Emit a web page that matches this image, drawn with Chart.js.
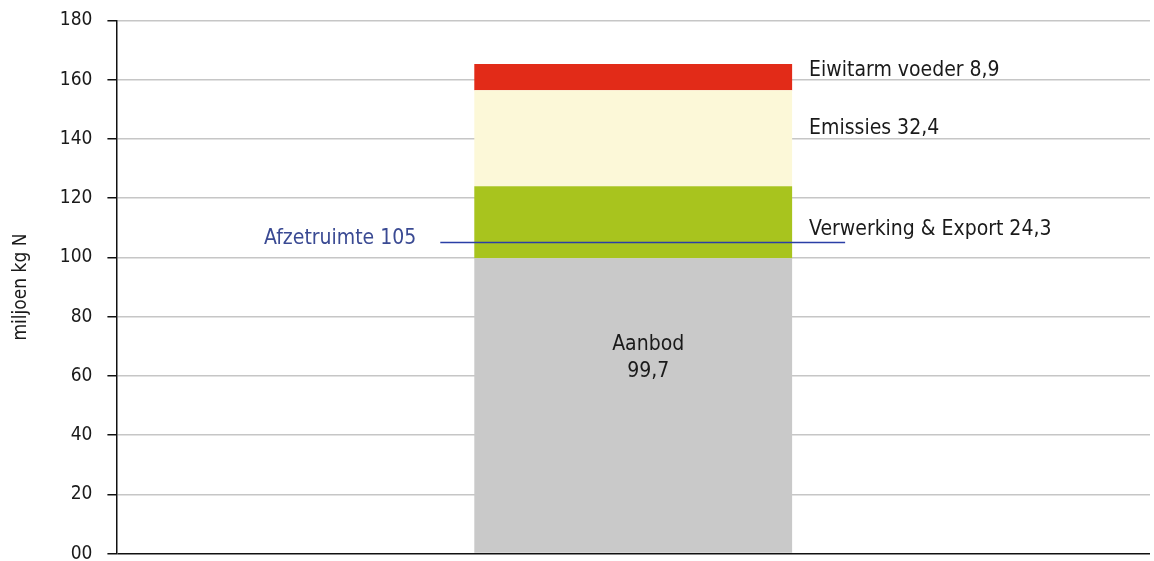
<!DOCTYPE html>
<html>
<head>
<meta charset="utf-8">
<script src="https://cdn.jsdelivr.net/npm/chart.js@4"></script>
<style>
  html, body { margin: 0; padding: 0; background: #fff; overflow: hidden; }
  #wrap { width: 1154px; height: 586px; margin-top: -6px; }
</style>
</head>
<body>
<div id="wrap"><canvas id="myChart"></canvas></div>
<script>
// Stikstof: aanbod versus afzetruimte

const categories = [''];
const seriesNames = ['Aanbod', 'Verwerking & Export', 'Emissies', 'Eiwitarm voeder'];
const seriesValues = [99.7, 24.3, 32.4, 8.9];
const seriesLabels = ['Aanbod\n99,7', 'Verwerking & Export 24,3', 'Emissies 32,4', 'Eiwitarm voeder 8,9'];
const seriesColors = ['#c9c9c9', '#a8c41e', '#fcf8d8', '#e22b18'];
const labelAt = [66.2, 109.4, 143.5, 163.1];   // label heights in axis units
const afzetruimte = 105;
const yTicks = [0, 20, 40, 60, 80, 100, 120, 140, 160, 180];

const font = '"DejaVu Sans Condensed", "Liberation Sans Narrow", Roboto, sans-serif';

let datasets = [];
for (let i = 0; i < seriesNames.length; i++) {
    datasets.push({
        label: seriesNames[i],
        data: [seriesValues[i]],
        backgroundColor: seriesColors[i],
        barPercentage: 0.3075,
        categoryPercentage: 1
    });
}

const annotate = {
    id: 'annotate',
    afterDatasetsDraw(chart) {
        const ctx = chart.ctx;
        const y = chart.scales.y;
        const bar = chart.getDatasetMeta(0).data[0];
        const left = bar.x - bar.width / 2;
        const right = bar.x + bar.width / 2;
        ctx.save();
        ctx.font = '21px ' + font;
        ctx.fillStyle = '#1a1a1a';
        ctx.textBaseline = 'middle';
        // labels of the upper segments, right of the bar
        ctx.textAlign = 'left';
        for (let i = 1; i < seriesLabels.length; i++) {
            ctx.fillText(seriesLabels[i], right + 17, y.getPixelForValue(labelAt[i]));
        }
        // label inside the bottom segment
        ctx.textAlign = 'center';
        const lines = seriesLabels[0].split('\n');
        const yc = y.getPixelForValue(labelAt[0]);
        ctx.fillText(lines[0], bar.x + 15, yc - 13);
        ctx.fillText(lines[1], bar.x + 15, yc + 14);
        // afzetruimte line
        const ly = y.getPixelForValue(afzetruimte);
        ctx.strokeStyle = '#2a3fa6';
        ctx.lineWidth = 1.5;
        ctx.beginPath();
        ctx.moveTo(left - 34, ly);
        ctx.lineTo(right + 53, ly);
        ctx.stroke();
        ctx.fillStyle = '#3a4a93';
        ctx.textAlign = 'right';
        ctx.fillText('Afzetruimte ' + afzetruimte, left - 58, ly - 4);
        ctx.restore();
    }
};

let ctx = document.getElementById('myChart').getContext('2d');
let myChart = new Chart(ctx, {
    type: 'bar',
    data: {
        labels: categories,
        datasets: datasets
    },
    options: {
        responsive: true,
        maintainAspectRatio: false,
        animation: false,
        layout: { padding: { top: 3, right: 4, left: 8, bottom: 0 } },
        plugins: {
            legend: { display: false },
            tooltip: { enabled: false }
        },
        scales: {
            x: {
                display: false,
                stacked: true
            },
            y: {
                stacked: true,
                min: 0,
                max: 180,
                afterBuildTicks: (axis) => { axis.ticks = yTicks.map(v => ({ value: v })); },
                ticks: {
                    padding: 15,
                    color: '#1a1a1a',
                    font: { family: font, size: 19 },
                    callback: (v) => v === 0 ? '00' : String(v)
                },
                grid: {
                    color: (c) => c.tick && c.tick.value === 0 ? '#111' : '#c6c6c6',
                    lineWidth: 1.5,
                    tickColor: '#111',
                    tickLength: 9
                },
                border: { color: '#111', width: 1.5 },
                title: {
                    display: true,
                    text: 'miljoen kg N',
                    color: '#1a1a1a',
                    font: { family: font, size: 19 },
                    padding: { top: 2, bottom: 12 }
                }
            }
        }
    },
    plugins: [annotate]
});
</script>
</body>
</html>
